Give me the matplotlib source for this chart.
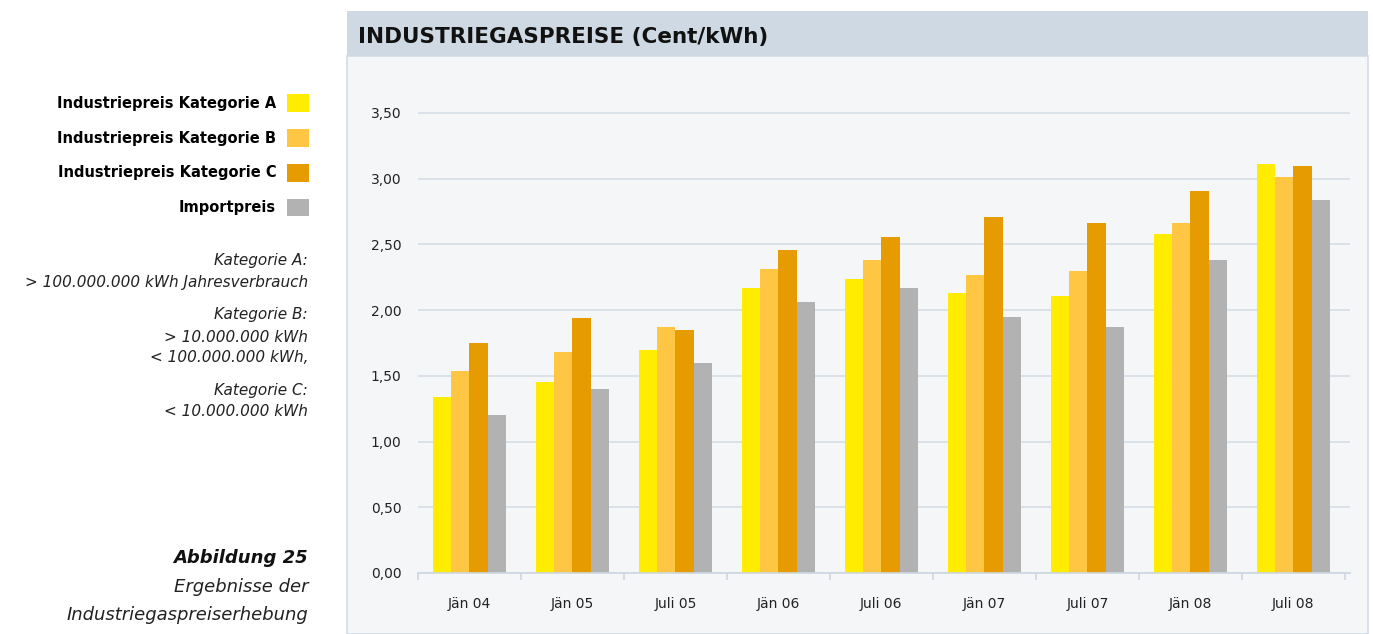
"""Industriegaspreise (Cent/kWh) - grouped bar chart with side legend."""
import matplotlib
matplotlib.use('Agg')
import matplotlib.pyplot as plt
import matplotlib.ticker as ticker
from matplotlib.patches import Rectangle
import numpy as np

categories = ["Jän 04", "Jän 05", "Juli 05", "Jän 06", "Juli 06",
              "Jän 07", "Juli 07", "Jän 08", "Juli 08"]
kat_a  = [1.34, 1.45, 1.70, 2.17, 2.24, 2.13, 2.11, 2.58, 3.11]
kat_b  = [1.54, 1.68, 1.87, 2.31, 2.38, 2.27, 2.30, 2.66, 3.01]
kat_c  = [1.75, 1.94, 1.85, 2.46, 2.56, 2.71, 2.66, 2.91, 3.10]
import_ = [1.20, 1.40, 1.60, 2.06, 2.17, 1.95, 1.87, 2.38, 2.84]

series = [
    ("Industriepreis Kategorie A", kat_a,  "#ffec00"),
    ("Industriepreis Kategorie B", kat_b,  "#fec642"),
    ("Industriepreis Kategorie C", kat_c,  "#e69c00"),
    ("Importpreis",                import_, "#b2b2b3"),
]

W, H = 1373, 634
fig = plt.figure(figsize=(W / 100, H / 100), dpi=100)
fig.patch.set_facecolor("white")

def fx(px): return px / W
def fy(py): return 1 - py / H

# panel background + header band (behind the axes)
fig.patches.append(Rectangle((fx(347), fy(634)), fx(1368) - fx(347), fy(56) - fy(634),
                             transform=fig.transFigure, facecolor="#f4f6f8",
                             edgecolor="#d3dce5", linewidth=1.2, zorder=-10))
fig.patches.append(Rectangle((fx(347), fy(56)), fx(1368) - fx(347), fy(11) - fy(56),
                             transform=fig.transFigure, facecolor="#cfd9e3",
                             edgecolor="none", zorder=-10))
fig.text(fx(358), fy(37), "INDUSTRIEGASPREISE (Cent/kWh)", fontsize=15.5,
         fontweight="bold", color="#111111", ha="left", va="center")

# axes: y=0 at 573 px, 3.50 at 113 px; a little headroom so the top grid line is whole
ax = fig.add_axes([fx(418), fy(573), fx(1350) - fx(418), fy(106.4) - fy(573)])
ax.set_facecolor("none")
x = np.arange(len(categories))
bw = 0.178
for i, (label, vals, color) in enumerate(series):
    ax.bar(x + (i - 1.5) * bw, vals, width=bw, color=color, label=label, zorder=3)

ax.set_xlim(-0.5, 8.55)
ax.set_ylim(0, 3.55)
ax.set_yticks(np.arange(0, 3.51, 0.5))
ax.yaxis.set_major_formatter(ticker.FuncFormatter(lambda v, p: f"{v:.2f}".replace(".", ",")))
ax.grid(True, axis="y", color="#d5dde6", linewidth=1.2, zorder=0)
for s in ["top", "right", "left"]:
    ax.spines[s].set_visible(False)
ax.spines["bottom"].set_color("#cdd7e1")
ax.spines["bottom"].set_linewidth(1.2)
ax.spines["bottom"].set_zorder(4)
ax.set_xticks(x)
ax.set_xticklabels(categories)
ax.set_xticks(np.arange(-0.5, 9, 1), minor=True)
ax.tick_params(axis="x", which="major", length=0, pad=17, labelsize=10, labelcolor="#222222")
ax.tick_params(axis="x", which="minor", length=5, width=1.2, color="#cdd7e1")
ax.tick_params(axis="y", length=0, pad=12, labelsize=10, labelcolor="#222222")

# legend on the left
handles, labels = ax.get_legend_handles_labels()
fig.legend(handles, labels, loc="upper right", bbox_to_anchor=(fx(309), fy(94)),
           markerfirst=False, frameon=False,
           prop={"weight": "bold", "size": 10.5}, handlelength=1.5, handleheight=1.5,
           handletextpad=0.75, labelspacing=1.17, borderaxespad=0, borderpad=0)

notes = [
    (261, "Kategorie A:"), (283, "> 100.000.000 kWh Jahresverbrauch"),
    (315, "Kategorie B:"), (337, "> 10.000.000 kWh"), (358, "< 100.000.000 kWh,"),
    (390, "Kategorie C:"), (411, "< 10.000.000 kWh"),
]
for py, t in notes:
    fig.text(fx(308), fy(py), t, fontsize=11, style="italic", color="#222222",
             ha="right", va="center")

fig.text(fx(308), fy(558), "Abbildung 25", fontsize=13, style="italic",
         fontweight="bold", color="#111111", ha="right", va="center")
fig.text(fx(308), fy(587), "Ergebnisse der", fontsize=13, style="italic",
         color="#222222", ha="right", va="center")
fig.text(fx(308), fy(615), "Industriegaspreiserhebung", fontsize=13, style="italic",
         color="#222222", ha="right", va="center")

fig.savefig("out.png", dpi=100, facecolor="white")
